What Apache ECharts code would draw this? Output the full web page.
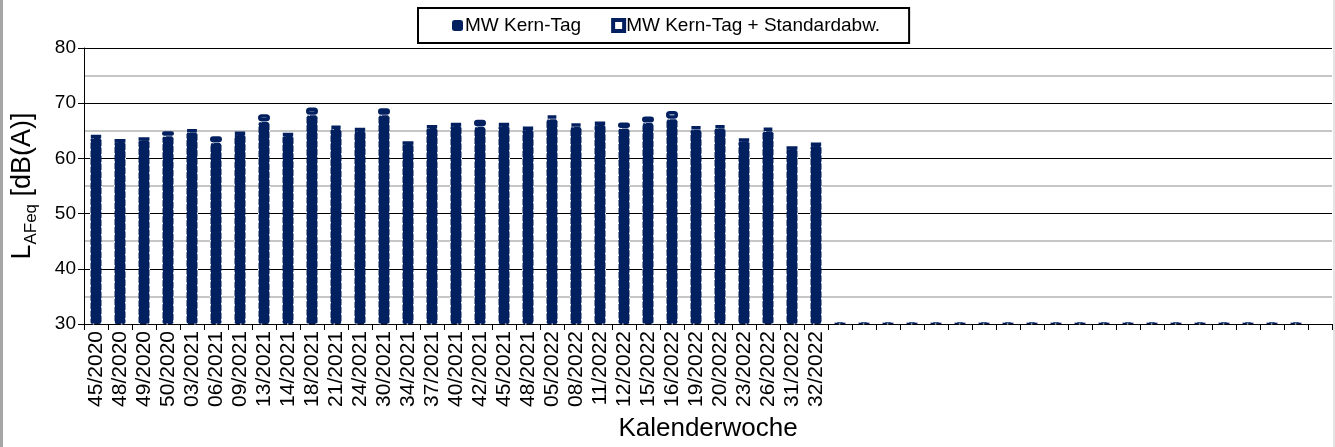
<!DOCTYPE html>
<html>
<head>
<meta charset="utf-8">
<title>MW Kern-Tag</title>
<script src="https://cdn.jsdelivr.net/npm/echarts@6/dist/echarts.min.js"></script>
<style>
  html, body { margin: 0; padding: 0; background: #fff; }
  #chart { width: 1335px; height: 447px; }
</style>
</head>
<body>
<div id="chart"></div>
<script>
// Kalenderwochen (leere Wochen am Ende ohne Beschriftung)
var weeks = [
  '45/2020', '48/2020', '49/2020', '50/2020', '03/2021', '06/2021', '09/2021', '13/2021',
  '14/2021', '18/2021', '21/2021', '24/2021', '30/2021', '34/2021', '37/2021', '40/2021',
  '42/2021', '45/2021', '48/2021', '05/2022', '08/2022', '11/2022', '12/2022', '15/2022',
  '16/2022', '19/2022', '20/2022', '23/2022', '26/2022', '31/2022', '32/2022',
  '', '', '', '', '', '', '', '', '', '', '', '', '', '', '', '', '', '', '', '', ''
];

// Mittelwert Kern-Tag in dB(A)
var mwKernTag = [
  63.8, 63.1, 63.4, 64.1, 64.8, 62.9, 64.4, 66.7,
  64.2, 67.9, 65.4, 65.1, 67.9, 62.7, 65.6, 66.0,
  65.8, 66.0, 65.3, 67.2, 65.8, 66.2, 65.5, 66.5,
  67.2, 65.3, 65.5, 63.2, 65.0, 61.8, 62.4,
  30.4, 30.4, 30.4, 30.4, 30.4, 30.4, 30.4, 30.4, 30.4, 30.4,
  30.4, 30.4, 30.4, 30.4, 30.4, 30.4, 30.4, 30.4, 30.4, 30.4, null
];

// Standardabweichung (oben aufgesetzt)
var standardabw = [
  0.3, 0.2, 0.2, 0.8, 0.4, 1.1, 0.3, 1.3,
  0.3, 1.3, 0.5, 0.3, 1.2, 0.2, 0.3, 0.3,
  1.2, 0.3, 0.3, 0.6, 0.5, 0.3, 1.0, 1.1,
  1.4, 0.5, 0.5, 0.3, 0.6, 0.2, 0.3,
  null, null, null, null, null, null, null, null, null, null,
  null, null, null, null, null, null, null, null, null, null, null
];

var yTicks = [30, 40, 50, 60, 70, 80];

var navy = '#022060';
var font = "'Liberation Sans', Arial, sans-serif";

var chart = echarts.init(document.getElementById('chart'));
chart.setOption({
  animation: false,
  textStyle: { fontFamily: font, color: '#000' },
  graphic: [
    { type: 'rect', left: 0, top: 0, shape: { width: 3, height: 447 }, style: { fill: '#a6a6a6' } },
    { type: 'rect', left: 1333, top: 0, shape: { width: 2, height: 447 }, style: { fill: '#e4e4e4' } }
  ],
  legend: {
    left: 418,
    top: 8,
    padding: [8, 29, 8, 34],
    itemGap: 30,
    itemWidth: 11,
    itemHeight: 11,
    borderColor: '#000',
    borderWidth: 2,
    textStyle: { fontFamily: font, fontSize: 19, color: '#000', padding: [0, 0, 0, -3] },
    data: [
      { name: 'MW Kern-Tag', icon: 'roundRect', itemStyle: { color: navy, borderWidth: 0 } },
      { name: 'MW Kern-Tag + Standardabw.', icon: 'rect', itemStyle: { color: '#fff', borderColor: navy, borderWidth: 4 } }
    ]
  },
  grid: { left: 84, right: 3, top: 48, bottom: 123 },
  xAxis: {
    type: 'category',
    data: weeks,
    boundaryGap: true,
    name: 'Kalenderwoche',
    nameLocation: 'middle',
    nameGap: 92,
    nameTextStyle: { fontFamily: font, fontSize: 26, color: '#000' },
    axisLine: { lineStyle: { color: '#000', width: 1 } },
    axisTick: { show: true, length: 6, interval: 0, lineStyle: { color: '#000' } },
    axisLabel: {
      interval: 0,
      rotate: 90,
      margin: 7,
      fontFamily: font,
      fontSize: 21,
      color: '#000'
    },
    splitLine: { show: false }
  },
  yAxis: {
    type: 'value',
    min: yTicks[0],
    max: yTicks[yTicks.length - 1],
    interval: 10,
    name: '{a|L}{b|AFeq}{a| [dB(A)]}',
    nameLocation: 'middle',
    nameRotate: 90,
    nameGap: 46,
    nameTextStyle: {
      fontFamily: font,
      color: '#000',
      rich: {
        a: { fontFamily: font, fontSize: 27, color: '#000', lineHeight: 30 },
        b: { fontFamily: font, fontSize: 17, color: '#000', verticalAlign: 'bottom', lineHeight: 16, padding: [0, 0, -2, 0] }
      }
    },
    axisLine: { show: true, lineStyle: { color: '#000', width: 1 } },
    axisTick: { show: true, length: 6, lineStyle: { color: '#000' } },
    axisLabel: { margin: 8, fontFamily: font, fontSize: 19, color: '#000' },
    splitLine: { show: true, lineStyle: { color: '#000', width: 1 } },
    minorTick: { show: false, splitNumber: 2 },
    minorSplitLine: { show: true, lineStyle: { color: '#b4b4b4', width: 1.5 } }
  },
  series: [
    {
      name: 'MW Kern-Tag',
      type: 'bar',
      stack: 'kern',
      barWidth: 12,
      data: mwKernTag,
      itemStyle: {
        color: navy,
        borderColor: '#ffffff',
        borderWidth: 1,
        borderType: [1.5, 6.5],
        borderRadius: 2
      }
    },
    {
      name: 'MW Kern-Tag + Standardabw.',
      type: 'bar',
      stack: 'kern',
      barWidth: 12,
      data: standardabw,
      itemStyle: {
        color: '#ffffff',
        borderColor: navy,
        borderWidth: 3.5,
        borderRadius: 2
      }
    }
  ]
});
</script>
</body>
</html>
